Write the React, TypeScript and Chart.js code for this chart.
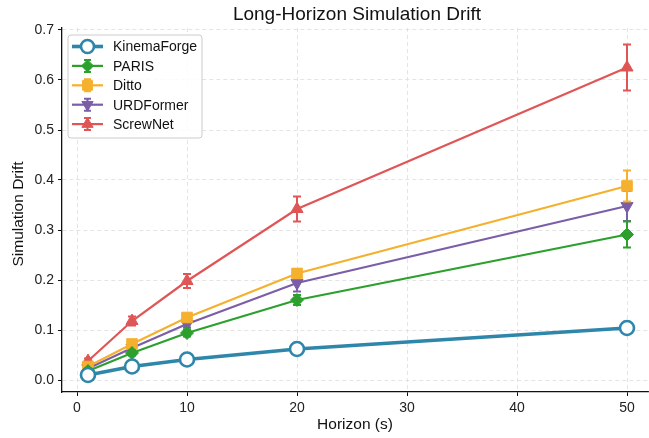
import { useEffect, useRef } from "react";
import { Chart, registerables } from "chart.js";
import { drawPoint } from "chart.js/helpers";

Chart.register(...registerables);

const FONT = "'Liberation Sans', Arial, Helvetica, sans-serif";

const horizons = [1, 5, 10, 20, 50];
const xTicks = [0, 10, 20, 30, 40, 50];
const yTicks = [0.0, 0.1, 0.2, 0.3, 0.4, 0.5, 0.6, 0.7];

const seriesNames = ["KinemaForge", "PARIS", "Ditto", "URDFormer", "ScrewNet"];
const seriesColors = ["#2e86ab", "#2ca02c", "#f5b02e", "#7b5ea7", "#e05555"];

const kinemaForge = [0.01, 0.027, 0.041, 0.062, 0.104];
const kinemaForgeErr = [0.002, 0.002, 0.003, 0.003, 0.004];
const paris = [0.018, 0.054, 0.094, 0.16, 0.291];
const parisErr = [0.003, 0.005, 0.007, 0.01, 0.026];
const ditto = [0.027, 0.072, 0.125, 0.213, 0.388];
const dittoErr = [0.003, 0.005, 0.006, 0.009, 0.031];
const urdFormer = [0.023, 0.064, 0.112, 0.194, 0.348];
const urdFormerErr = [0.003, 0.005, 0.007, 0.017, 0.03];
const screwNet = [0.038, 0.118, 0.198, 0.342, 0.625];
const screwNetErr = [0.005, 0.009, 0.014, 0.025, 0.046];

export default function App() {
  const ref = useRef<HTMLCanvasElement>(null);

  useEffect(() => {
    document.body.style.margin = "0";
    const series = [kinemaForge, paris, ditto, urdFormer, screwNet];
    const errs = [kinemaForgeErr, parisErr, dittoErr, urdFormerErr, screwNetErr];
    const styles = [
      { pointStyle: "circle", radius: 7, rotation: 0, lw: 3.6, bw: 2.6, bg: "#ffffff" },
      { pointStyle: "rectRot", radius: 6.5, rotation: 0, lw: 2.2, bw: 1, bg: seriesColors[1] },
      { pointStyle: "rect", radius: 7.5, rotation: 0, lw: 2.2, bw: 1, bg: seriesColors[2] },
      { pointStyle: "triangle", radius: 7, rotation: 180, lw: 2.2, bw: 1, bg: seriesColors[3] },
      { pointStyle: "triangle", radius: 7, rotation: 0, lw: 2.2, bw: 1, bg: seriesColors[4] },
    ];

    const datasets = series.map((vals, i) => ({
      label: seriesNames[i],
      data: horizons.map((h, j) => ({ x: h, y: vals[j] })),
      borderColor: seriesColors[i],
      backgroundColor: styles[i].bg,
      borderWidth: styles[i].lw,
      pointStyle: styles[i].pointStyle as any,
      pointRadius: styles[i].radius,
      pointRotation: styles[i].rotation,
      pointBorderWidth: styles[i].bw,
      pointBackgroundColor: styles[i].bg,
      pointBorderColor: seriesColors[i],
      tension: 0,
      fill: false,
      clip: false as any,
    }));

    const errPlugin = {
      id: "errbars",
      beforeDatasetDraw(chart: any, args: any) {
        const i = args.index;
        const meta = args.meta;
        const ctx = chart.ctx;
        const ys = chart.scales.y;
        ctx.save();
        ctx.strokeStyle = seriesColors[i];
        ctx.lineWidth = 2;
        meta.data.forEach((pt: any, j: number) => {
          const x = pt.x;
          const yTop = ys.getPixelForValue(series[i][j] + errs[i][j]);
          const yBot = ys.getPixelForValue(series[i][j] - errs[i][j]);
          ctx.beginPath();
          ctx.moveTo(x, yTop);
          ctx.lineTo(x, yBot);
          ctx.moveTo(x - 4, yTop);
          ctx.lineTo(x + 4, yTop);
          ctx.moveTo(x - 4, yBot);
          ctx.lineTo(x + 4, yBot);
          ctx.stroke();
        });
        ctx.restore();
      },
    };

    const textPlugin = {
      id: "texts",
      afterDraw(chart: any) {
        const ctx = chart.ctx;
        const ca = chart.chartArea;
        ctx.save();
        ctx.fillStyle = "#111111";
        ctx.textAlign = "center";
        ctx.textBaseline = "middle";
        ctx.font = `19px ${FONT}`;
        ctx.fillText("Long-Horizon Simulation Drift", (ca.left + ca.right) / 2 + 2, 15);
        ctx.font = `15.5px ${FONT}`;
        ctx.fillText("Horizon (s)", (ca.left + ca.right) / 2, 425);
        ctx.save();
        ctx.translate(19, (ca.top + ca.bottom) / 2 + 4);
        ctx.rotate(-Math.PI / 2);
        ctx.fillText("Simulation Drift", 0, 0);
        ctx.restore();

        // legend
        const bx = 68, by = 35, bw = 134, bh = 103;
        ctx.beginPath();
        ctx.roundRect(bx, by, bw, bh, 3);
        ctx.fillStyle = "rgba(255,255,255,0.85)";
        ctx.fill();
        ctx.strokeStyle = "#cccccc";
        ctx.lineWidth = 1;
        ctx.stroke();
        ctx.font = `14px ${FONT}`;
        ctx.textAlign = "left";
        seriesNames.forEach((name, i) => {
          const y = 46.5 + i * 19.4;
          const c = seriesColors[i];
          ctx.strokeStyle = c;
          ctx.lineWidth = styles[i].lw;
          ctx.beginPath();
          ctx.moveTo(72, y);
          ctx.lineTo(103, y);
          ctx.stroke();
          if (i > 0) {
            ctx.lineWidth = 2;
            ctx.beginPath();
            ctx.moveTo(87.5, y - 6);
            ctx.lineTo(87.5, y + 6);
            ctx.moveTo(84, y - 6);
            ctx.lineTo(91, y - 6);
            ctx.moveTo(84, y + 6);
            ctx.lineTo(91, y + 6);
            ctx.stroke();
          }
          ctx.fillStyle = styles[i].bg;
          ctx.strokeStyle = c;
          ctx.lineWidth = styles[i].bw;
          drawPoint(ctx, {
            pointStyle: styles[i].pointStyle as any,
            rotation: styles[i].rotation,
            radius: styles[i].radius - 0.5,
            borderWidth: styles[i].bw,
          }, 87.5, y);
          ctx.fillStyle = "#111111";
          ctx.fillText(name, 113, y + 1);
        });
        ctx.restore();
      },
    };

    const chart = new Chart(ref.current!, {
      type: "line",
      data: { datasets: datasets as any },
      options: {
        responsive: false,
        animation: false,
        layout: { autoPadding: false, padding: { top: 28, right: 1, left: 0, bottom: 0 } },
        plugins: {
          legend: { display: false },
          title: { display: false },
          tooltip: { enabled: false },
        },
        scales: {
          x: {
            type: "linear",
            min: -15 / 11,
            max: 571 / 11,
            afterFit: (s: any) => {
              s.height = 46;
              s.paddingLeft = 0;
              s.paddingRight = 0;
            },
            afterBuildTicks: (s: any) => {
              s.ticks = xTicks.map((v) => ({ value: v }));
            },
            ticks: {
              font: { family: FONT, size: 14 },
              color: "#222222",
              padding: 4,
              maxRotation: 0,
              callback: (v: any) => String(Math.round(Number(v))),
            },
            grid: {
              color: "#dddddd",
              lineWidth: 0.8,
              tickColor: "#111111",
              tickLength: 4,
              tickWidth: 1,
            },
            border: { display: true, color: "#111111", width: 1.3, dash: [4, 3] },
          },
          y: {
            type: "linear",
            min: -0.024,
            max: 0.704,
            afterFit: (s: any) => {
              s.width = 62;
              s.paddingTop = 0;
              s.paddingBottom = 0;
            },
            afterBuildTicks: (s: any) => {
              s.ticks = yTicks.map((v) => ({ value: v }));
            },
            ticks: {
              font: { family: FONT, size: 14 },
              color: "#222222",
              padding: 4,
              callback: (v: any) => Number(v).toFixed(1),
            },
            grid: {
              color: "#dddddd",
              lineWidth: 0.8,
              tickColor: "#111111",
              tickLength: 4,
              tickWidth: 1,
            },
            border: { display: true, color: "#111111", width: 1.3, dash: [4, 3] },
          },
        },
      },
      plugins: [errPlugin, textPlugin],
    });

    return () => chart.destroy();
  }, []);

  return (
    <div style={{ position: "absolute", left: 0, top: 0, width: 649, height: 438 }}>
      <canvas ref={ref} width={649} height={438} />
    </div>
  );
}
